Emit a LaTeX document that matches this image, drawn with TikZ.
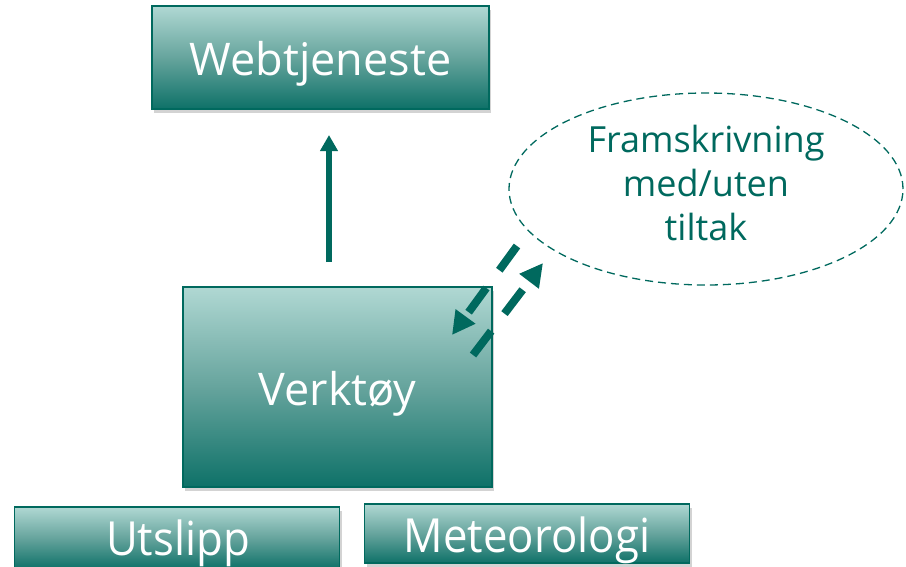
\documentclass[tikz,border=0pt]{standalone}
\usepackage{fontspec}
\setmainfont{Open Sans}
\newfontfamily\narrowfont[FakeStretch=0.93]{Open Sans}
\usetikzlibrary{shadows,arrows.meta,shapes.geometric}
\definecolor{tealtop}{HTML}{B0D8D3}
\definecolor{tealmid}{HTML}{66A49D}
\definecolor{tealbot}{HTML}{0E7168}
\definecolor{tealline}{HTML}{00695E}
\tikzset{
  tealbox/.style={draw=tealline, line width=1.2pt, top color=tealtop, bottom color=tealbot, middle color=tealmid,
    drop shadow={opacity=0.35, shadow xshift=2pt, shadow yshift=-4pt},
    inner sep=0pt, anchor=center},
  boxtext/.style={text=white, anchor=base, inner sep=0pt, font=\fontsize{45}{50}\selectfont},
  narrowtext/.style={text=white, anchor=base, inner sep=0pt, font=\narrowfont\fontsize{47}{50}\selectfont},
  flowarrow/.style={draw=tealline, line width=6.5pt, -{Triangle[length=16pt,width=17pt]}},
  dasharrow/.style={draw=tealline, line width=8pt, dash pattern=on 30pt off 22pt, -{Triangle[length=23pt,width=23pt]}},
}
\begin{document}
\begin{tikzpicture}[x=1pt,y=-1pt]
\useasboundingbox (0,0) rectangle (906,566);
\begin{scope}
\clip (0,0) rectangle (906,566);
\node[tealbox, minimum width=337pt, minimum height=103pt] (web) at (320.5,57.5) {};
\node[boxtext] (webtxt) at (320.5,75) {Webtjeneste};
\node[tealbox, minimum width=309pt, minimum height=200pt] (tool) at (337.5,387) {};
\node[boxtext] (tooltxt) at (337.5,405) {Verktøy};
\node[tealbox, minimum width=325pt, minimum height=62pt] (utslipp) at (177,538) {};
\node[narrowtext] (utxt) at (178,555) {Utslipp};
\node[tealbox, minimum width=325pt, minimum height=59pt] (meteo) at (527,533.5) {};
\node[narrowtext] (mtxt) at (527,552) {Meteorologi};
\end{scope}
\node[ellipse, draw=tealline, line width=1.3pt, dash pattern=on 8pt off 5pt, minimum width=394pt, minimum height=192pt, inner sep=0pt] (scen) at (706,189) {};
\node[text=tealline, font=\fontsize{36}{44}\selectfont, align=center, anchor=base, inner sep=0pt] (scentxt) at (706,240)
  {Framskrivning\\med/uten\\tiltak};
\coordinate (upstart) at (329,262);
\coordinate (upend) at (329,135);
\draw[flowarrow] (upstart) -- (upend);
\coordinate (a1) at (517,246);
\coordinate (a2) at (452,335);
\coordinate (b1) at (473,355);
\coordinate (b2) at (543,263);
\draw[dasharrow] (a1) -- (a2);
\draw[dasharrow] (b1) -- (b2);
\end{tikzpicture}
\end{document}
